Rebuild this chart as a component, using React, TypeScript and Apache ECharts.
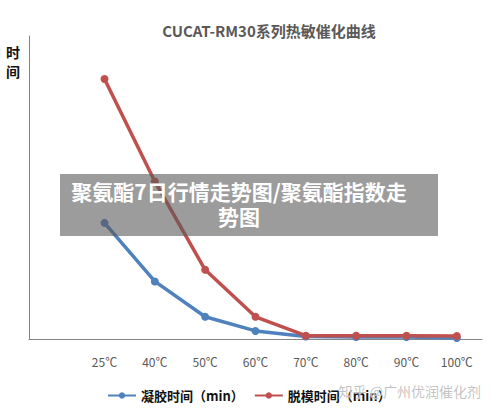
import React, { useEffect, useRef } from "react";
import * as echarts from "echarts";

const categories = ["", "25℃", "40℃", "50℃", "60℃", "70℃", "80℃", "90℃", "100℃"];
const gelTime = [null, 23, 11.4, 4.4, 1.6, 0.5, 0.4, 0.4, 0.2];
const demoldTime = [null, 51.5, 31.2, 13.7, 4.4, 0.65, 0.65, 0.65, 0.6];
const seriesNames = ["凝胶时间（min）", "脱模时间（min）"];
const titleText = "CUCAT-RM30系列热敏催化曲线";
const overlayLines = ["聚氨酯7日行情走势图/聚氨酯指数走", "势图"];
const watermarkText = "知乎 @广州优润催化剂";

const FONT = "'Noto Sans CJK SC', 'Noto Sans', sans-serif";

export default function App() {
  const ref = useRef<HTMLDivElement>(null);
  useEffect(() => {
    document.body.style.margin = "0";
    if (!ref.current) return;
    const chart = echarts.init(ref.current, null, { renderer: "svg" });
    chart.setOption({
      animation: false,
      backgroundColor: "#ffffff",
      title: {
        text: titleText,
        left: 264,
        textAlign: "center",
        top: 18,
        textStyle: { fontFamily: FONT, fontSize: 15, fontWeight: "bold", color: "#595959" },
      },
      grid: { left: 29, right: 18, top: 36, bottom: 73 },
      legend: {
        left: 102,
        top: 384,
        itemWidth: 28,
        itemHeight: 8,
        itemGap: 10,
        data: seriesNames,
        textStyle: { fontFamily: FONT, fontSize: 13, fontWeight: "bold", color: "#111" },
      },
      xAxis: {
        type: "category",
        data: categories,
        boundaryGap: true,
        axisLine: { lineStyle: { color: "#858585", width: 1 } },
        axisTick: { show: false },
        axisLabel: { interval: 0, margin: 16, fontFamily: FONT, fontSize: 12, color: "#595959" },
      },
      yAxis: {
        type: "value",
        min: 0,
        max: 60,
        axisLine: { show: true, lineStyle: { color: "#858585", width: 1 } },
        axisTick: { show: false },
        axisLabel: { show: false },
        splitLine: { show: false },
      },
      series: [
        {
          name: seriesNames[0],
          type: "line",
          data: gelTime,
          symbol: "circle",
          symbolSize: 8,
          itemStyle: { color: "#4F81BD" },
          lineStyle: { width: 3.5, color: "#4F81BD" },
        },
        {
          name: seriesNames[1],
          type: "line",
          data: demoldTime,
          symbol: "circle",
          symbolSize: 8,
          itemStyle: { color: "#C0504D" },
          lineStyle: { width: 3.5, color: "#C0504D" },
        },
      ],
      graphic: [
        {
          type: "text",
          left: 6,
          top: 42,
          style: {
            text: "时\n间",
            fontFamily: FONT,
            fontSize: 14,
            fontWeight: "bold",
            fill: "#111",
            lineHeight: 19,
          },
        },
        {
          type: "text",
          left: 338,
          top: 383,
          z: 100,
          style: {
            text: watermarkText,
            fontFamily: FONT,
            fontSize: 14,
            fill: "rgba(185,185,185,0.85)",
            stroke: "rgba(255,255,255,0.6)",
            lineWidth: 1,
          },
        },
        {
          type: "rect",
          z: 100,
          shape: { x: 60, y: 174, width: 378, height: 62 },
          style: { fill: "rgba(90,90,90,0.6)" },
        },
        ...overlayLines.map((line, i) => ({
          type: "text",
          z: 101,
          x: 239,
          y: 191 + i * 25,
          style: {
            text: line,
            fontFamily: FONT,
            fontSize: 21,
            fontWeight: "bold",
            fill: "#ffffff",
            align: "center",
            verticalAlign: "middle",
          },
        })),
      ],
    });
    return () => chart.dispose();
  }, []);
  return <div ref={ref} style={{ width: 500, height: 412 }} />;
}
